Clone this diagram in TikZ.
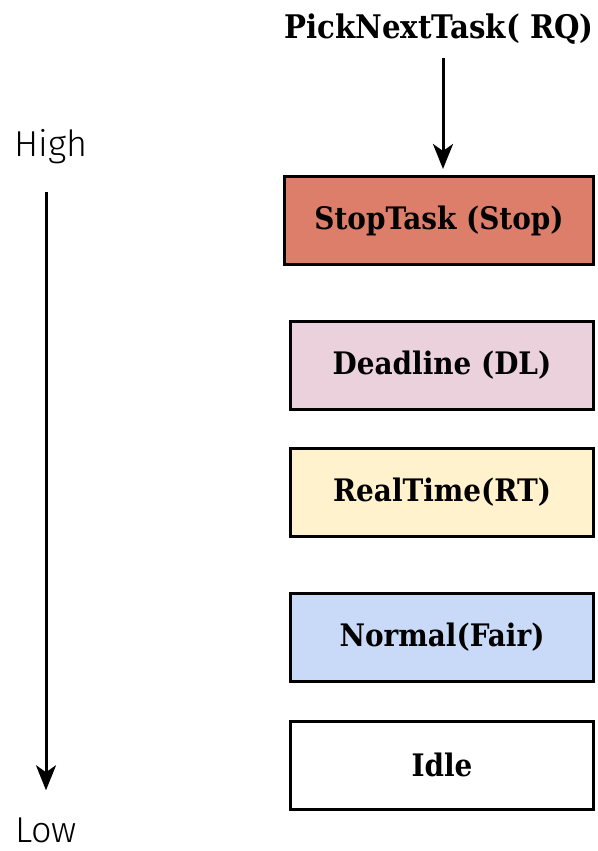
\documentclass[tikz,border=0pt]{standalone}
\usepackage{fontspec}
\setmainfont{DejaVu Serif Condensed}
\newfontfamily\levelfont{Fira Sans Light}
\definecolor{mystop}{HTML}{DD7E6B}
\definecolor{mydeadline}{HTML}{EAD1DC}
\definecolor{myrealtime}{HTML}{FFF2CC}
\definecolor{mynormal}{HTML}{C9DAF8}
\definecolor{myblack}{RGB}{0,0,0}
\definecolor{mywhite}{RGB}{255,255,255}
\usepackage{tikz}
\usetikzlibrary{arrows.meta,positioning}
\tikzstyle{class}=[draw=myblack,line width=3pt,rectangle,minimum width=303pt,minimum height=88pt,inner sep=0pt,font=\fontsize{31}{34}\selectfont\bfseries]

\begin{document}
\begin{tikzpicture}[
  x=1pt, y=-1pt,
  myarrow/.style={
    line width=3pt,
    -{Stealth[length=25pt,width=20pt,inset=7pt]}
    },
  level/.style={
    inner sep=0pt,
    font=\levelfont\fontsize{36}{38}\selectfont
    }
]
\useasboundingbox[fill=mywhite] (0,0) rectangle (597,851);

% the scheduling classes, highest first
\node [class, fill=mystop, minimum width=309pt] (stop) at (439,220.5) {StopTask (Stop)};
\node [class, fill=mydeadline] (dl) at (442,365) {Deadline (DL)};
\node [class, fill=myrealtime] (rt) at (442,492) {RealTime(RT)};
\node [class, fill=mynormal] (fair) at (442,637.5) {Normal(Fair)};
\node [class, fill=mywhite] (idle) at (442,765) {Idle};

% entry point
\node [font=\fontsize{32.5}{35}\selectfont\bfseries] (pick) at (439,29) {PickNextTask( RQ)};
\draw [myarrow, shorten <=10pt, shorten >=6pt] (pick.south -| 443,0) -- (stop.north -| 443,0);

% priority scale
\node [level] (high) at (51,147) {High};
\node [level] (low) at (46,830) {Low};
\draw [myarrow, shorten <=28pt, shorten >=27pt] (high.south -| 46,0) -- (low.north);

\end{tikzpicture}
\end{document}
